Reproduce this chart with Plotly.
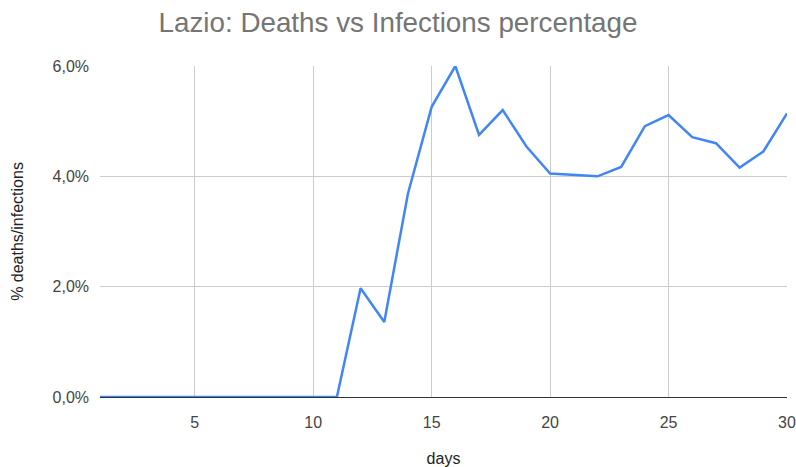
import plotly.graph_objects as go

days = list(range(1, 31))
pct_deaths = [0, 0, 0, 0, 0, 0, 0, 0, 0, 0, 0,
              1.97, 1.36, 3.69, 5.26, 6.0, 4.75, 5.2, 4.54, 4.05,
              4.02, 4.0, 4.17, 4.91, 5.11, 4.71, 4.6, 4.16, 4.45, 5.14]
y_vals = [v / 100 for v in pct_deaths]
x_ticks = [5, 10, 15, 20, 25, 30]
y_ticks = [0, 0.02, 0.04, 0.06]

fig = go.Figure()
fig.add_trace(go.Scatter(x=days, y=y_vals, mode="lines",
                         line=dict(color="#4285F4", width=2.5),
                         hoverinfo="skip", cliponaxis=False))

fig.update_layout(
    width=796, height=467,
    margin=dict(l=100, r=9, t=66, b=70, autoexpand=False),
    paper_bgcolor="white", plot_bgcolor="white",
    separators=",.",
    showlegend=False,
    font=dict(family="Liberation Sans, Arial, sans-serif", color="#444444", size=16),
    title=dict(text="Lazio: Deaths vs Infections percentage",
               x=0.5, xanchor="center", y=0.953, yanchor="middle",
               font=dict(size=27.8, color="#757575"), automargin=False),
    xaxis=dict(range=[1, 30], tickvals=x_ticks, showgrid=True,
               gridcolor="#cccccc", gridwidth=1, zeroline=False,
               showline=True, linecolor="#333333", linewidth=1,
               ticks="", ticklabelstandoff=11, automargin=False,
               tickfont=dict(size=16, color="#444444"),
               title=dict(text="days", standoff=33, font=dict(size=16, color="#222222"))),
    yaxis=dict(range=[0, 0.06], tickvals=y_ticks, tickformat=".1%",
               showgrid=True, gridcolor="#cccccc", gridwidth=1,
               zeroline=False, showline=False, ticks="",
               ticklabelstandoff=10, automargin=False,
               tickfont=dict(size=16, color="#444444"),
               title=dict(text="% deaths/infections", standoff=24,
                          font=dict(size=16, color="#222222"))),
)
fig.write_html("out.html",
               config={"displayModeBar": False, "staticPlot": True},
               post_script="document.body.style.margin='0';document.body.style.overflow='hidden';")
